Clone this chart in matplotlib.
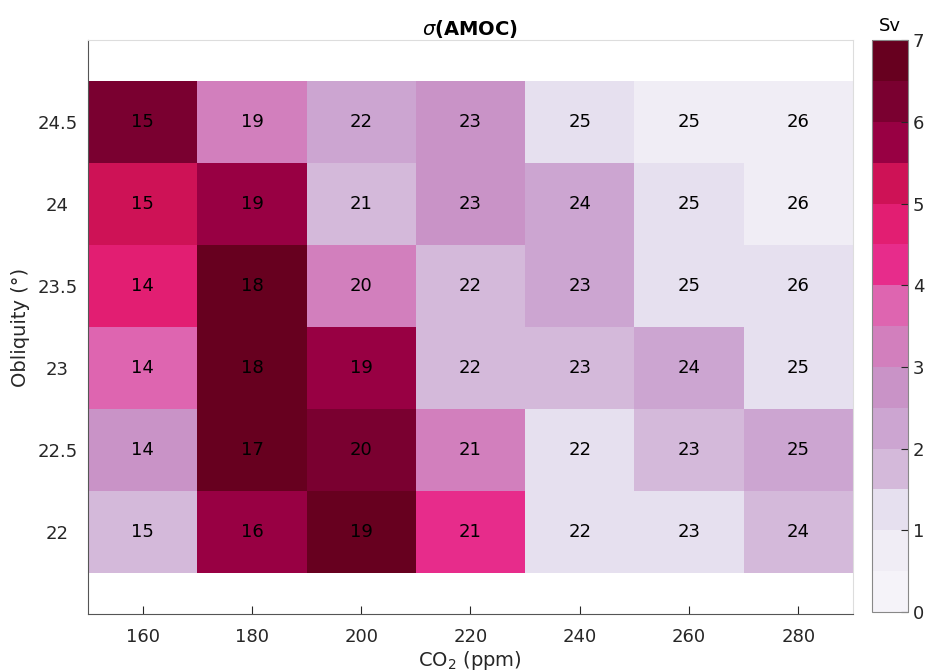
import numpy as np
import matplotlib
matplotlib.use('Agg')
import matplotlib.pyplot as plt
from matplotlib.colors import BoundaryNorm, ListedColormap

# Datos
co2 = [160, 180, 200, 220, 240, 260, 280]
obliquity = [22, 22.5, 23, 23.5, 24, 24.5]
obliquity_labels = ['22', '22.5', '23', '23.5', '24', '24.5']

# sigma(AMOC) en Sv, filas = oblicuidad (22 -> 24.5)
sigma = np.array([
    [1.75, 5.75, 6.75, 4.25, 1.25, 1.25, 1.75],
    [2.75, 6.75, 6.25, 3.25, 1.25, 1.75, 2.25],
    [3.75, 6.75, 5.75, 1.75, 1.75, 2.25, 1.25],
    [4.75, 6.75, 3.25, 1.75, 2.25, 1.25, 1.25],
    [5.25, 5.75, 1.75, 2.75, 2.25, 1.25, 0.75],
    [6.25, 3.25, 2.25, 2.75, 1.25, 0.75, 0.75],
])

# AMOC medio (etiquetas de las celdas)
amoc_mean = np.array([
    [15, 16, 19, 21, 22, 23, 24],
    [14, 17, 20, 21, 22, 23, 25],
    [14, 18, 19, 22, 23, 24, 25],
    [14, 18, 20, 22, 23, 25, 26],
    [15, 19, 21, 23, 24, 25, 26],
    [15, 19, 22, 23, 25, 25, 26],
])

# Paleta discreta tipo PuRd (14 niveles de 0.5 Sv)
colores = ['#f5f3f9', '#f0edf5', '#e6e0ef', '#d4b9da', '#cca5d1', '#c993c7',
           '#d27fbd', '#de65b0', '#e72c8b', '#e21e72', '#ce1256', '#980043',
           '#7a0030', '#67001f']
niveles = np.arange(0, 7.01, 0.5)
cmap = ListedColormap(colores)
norm = BoundaryNorm(niveles, cmap.N)

fig = plt.figure(figsize=(9.27, 6.71), dpi=100)
ax = fig.add_axes([0.095, 0.085, 0.825, 0.855])
cax = fig.add_axes([0.9407, 0.088, 0.0388, 0.852])

# Bordes de las celdas
x_edges = np.append(np.array(co2) - 10, co2[-1] + 10)
y_edges = np.append(np.array(obliquity) - 0.25, obliquity[-1] + 0.25)
mesh = ax.pcolormesh(x_edges, y_edges, sigma, cmap=cmap, norm=norm)

for i, ob in enumerate(obliquity):
    for j, c in enumerate(co2):
        ax.text(c, ob, f'{amoc_mean[i, j]}', ha='center', va='center',
                fontsize=13, color='black')

ax.set_xlim(150, 290)
ax.set_ylim(21.5, 25)
ax.set_xticks(co2)
ax.set_yticks(obliquity)
ax.set_yticklabels(obliquity_labels, ha='center')
ax.tick_params(direction='in', labelsize=13, colors='#262626', length=6)
ax.tick_params(axis='y', length=0, pad=22)
ax.tick_params(axis='x', pad=10)
for s in ['left', 'bottom']:
    ax.spines[s].set_color('#555555')
for s in ['top', 'right']:
    ax.spines[s].set_color('#dddddd')

ax.set_xlabel('CO$_2$ (ppm)', fontsize=14, color='#262626', labelpad=2)
ax.set_ylabel('Obliquity (°)', fontsize=14, color='#262626')
ax.yaxis.set_label_coords(-0.076, 0.5)
ax.set_title(r'$\sigma$(AMOC)', fontsize=14, fontweight='bold', pad=3)

cb = fig.colorbar(mesh, cax=cax, ticks=np.arange(0, 8, 1))
cb.ax.minorticks_off()
cb.ax.tick_params(direction='in', labelsize=13, length=5, colors='#262626')
cb.outline.set_edgecolor('#888888')
cb.ax.set_title('Sv', fontsize=13, pad=7)

fig.savefig('out.png', dpi=100)
